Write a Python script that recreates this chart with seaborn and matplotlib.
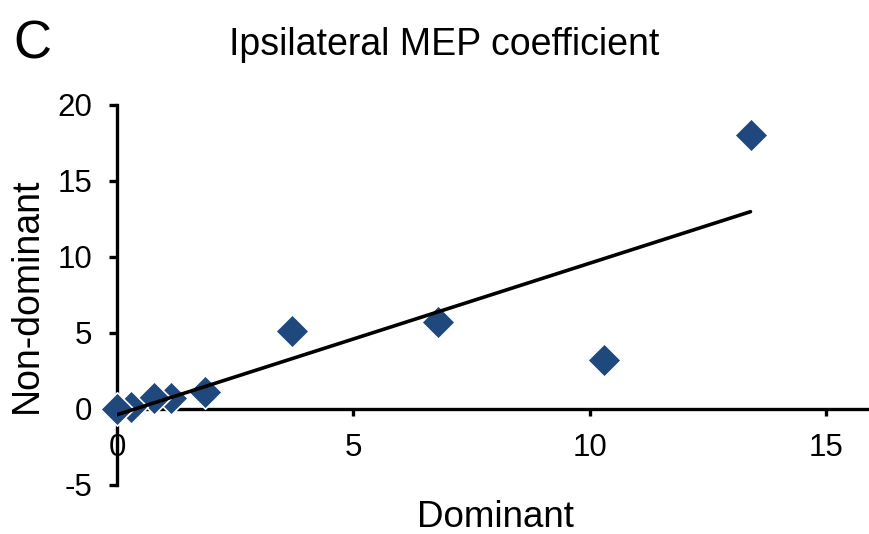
import numpy as np
import pandas as pd
import matplotlib
matplotlib.use("Agg")
import matplotlib.pyplot as plt
import seaborn as sns

# ── Data ────────────────────────────────────
dominant = [0.0, 0.3, 0.78, 1.14, 1.86, 3.7, 6.8, 10.3, 13.4]
non_dominant = [0.0, 0.13, 0.72, 0.75, 1.1, 5.15, 5.7, 3.2, 18.0]
x_ticks = [0, 5, 10, 15]
y_ticks = [-5, 0, 5, 10, 15, 20]

df = pd.DataFrame({"Dominant": dominant, "Non-dominant": non_dominant})

# ── Styling ─────────────────────────────────
sns.set_style("white")
plt.rcParams.update({
    "font.family": ["Liberation Sans", "DejaVu Sans"],
    "text.color": "black",
    "axes.labelcolor": "black",
    "xtick.color": "black",
    "ytick.color": "black",
    "axes.unicode_minus": False,
})

MARKER_COLOR = "#1F497D"

fig = plt.figure(figsize=(8.7, 5.34), dpi=100)
ax = fig.add_axes([0.1345, 0.0918, 0.864, 0.7116])

# regression line over the data range
sns.regplot(data=df, x="Dominant", y="Non-dominant", ax=ax, scatter=False,
            ci=None, truncate=True,
            line_kws={"color": "black", "linewidth": 2.6, "zorder": 5})

# diamonds, drawn right-to-left so the left ones sit on top
sns.scatterplot(data=df.iloc[::-1], x="Dominant", y="Non-dominant", ax=ax,
                marker="D", s=290, color=MARKER_COLOR, edgecolor="white",
                linewidth=1.2, zorder=4, clip_on=False)

ax.set_xlim(0, 15.9)
ax.set_ylim(-5, 20)
ax.set_xticks(x_ticks)
ax.set_yticks(y_ticks)

# axes cross at the origin
ax.spines["bottom"].set_position(("data", 0))
ax.spines["top"].set_visible(False)
ax.spines["right"].set_visible(False)
for side in ["left", "bottom"]:
    ax.spines[side].set_linewidth(2.4)
    ax.spines[side].set_color("black")

ax.tick_params(axis="y", direction="out", length=6, width=2.4, pad=12,
               labelsize=22.5, left=True)
ax.tick_params(axis="x", direction="out", length=5, width=2.4, pad=12,
               labelsize=22.5, bottom=True)

ax.set_xlabel("Dominant", fontsize=26.5)
ax.set_ylabel("Non-dominant", fontsize=27)
ax.xaxis.set_label_coords(0.503, -0.04)
ax.yaxis.set_label_coords(-0.096, 0.5)

fig.text(0.511, 0.916, "Ipsilateral MEP coefficient", fontsize=27,
         ha="center", va="center")
fig.text(0.037, 0.916, "C", fontsize=38, ha="center", va="center")

plt.savefig("out.png", dpi=100)
